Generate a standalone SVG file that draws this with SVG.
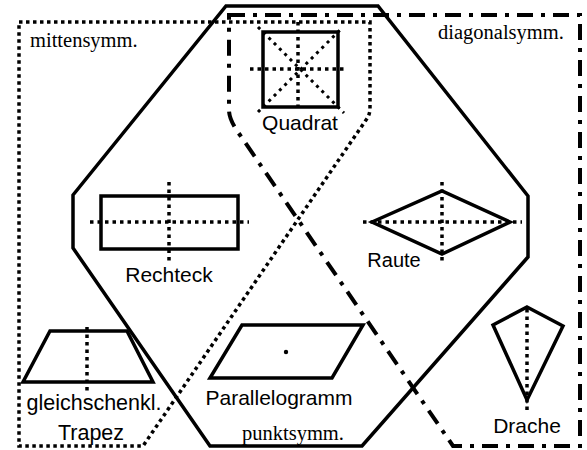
<svg xmlns="http://www.w3.org/2000/svg" width="587" height="450" viewBox="0 0 587 450">
<style>
.shape{fill:none;stroke:#000;stroke-width:3.5;stroke-linejoin:miter}
.axis{fill:none;stroke:#000;stroke-width:3.5;stroke-dasharray:3.5 4}
.diag{fill:none;stroke:#000;stroke-width:3;stroke-dasharray:3 4.5}
.oct{fill:none;stroke:#000;stroke-width:3.5}
.mitte{fill:none;stroke:#000;stroke-width:3.5;stroke-dasharray:3.5 3.5}
.diagsym{fill:none;stroke:#000;stroke-width:4;stroke-dasharray:16 8 4 8}
.serif{font-family:"Liberation Serif","Times New Roman",serif;font-size:20.5px;fill:#000}
.sans{font-family:"Liberation Sans",Arial,sans-serif;font-size:21px;fill:#000}
</style>
<rect width="587" height="450" fill="#fff"/>
<g id="regions">
<path id="punktsymm" class="oct" d="M226 6H378L528 196V257L362 446H210L73 248V195Z"/>
<path id="mittensymm" class="mitte" d="M19 22H370V108Q370 115 366 120L143 446H19Z"/>
<path id="diagonalsymm" class="diagsym" d="M229 15H580V446H453L240 135Q229 120 229 110Z"/>
<text class="serif" x="30" y="47">mittensymm.</text>
<text class="serif" x="438" y="39">diagonalsymm.</text>
<text class="serif" x="242" y="440">punktsymm.</text>
</g>
<g id="quadrat">
<rect class="shape" x="263" y="32" width="75" height="75"/>
<line class="axis" x1="298" y1="22" x2="298" y2="112"/>
<line class="axis" x1="250" y1="69" x2="346" y2="69"/>
<line class="diag" x1="258" y1="27" x2="344" y2="113"/>
<line class="diag" x1="258" y1="112" x2="342" y2="28"/>
<text class="sans" x="300" y="130" text-anchor="middle">Quadrat</text>
</g>
<g id="rechteck">
<rect class="shape" x="101" y="196" width="137" height="53"/>
<line class="axis" x1="90" y1="222" x2="249" y2="222"/>
<line class="axis" x1="169" y1="182" x2="169" y2="262"/>
<text class="sans" x="169" y="282" text-anchor="middle">Rechteck</text>
</g>
<g id="raute">
<polygon class="shape" points="372,222 442,191 510,222 442,254"/>
<line class="axis" x1="363" y1="222" x2="522" y2="222"/>
<line class="axis" x1="442" y1="182" x2="442" y2="262"/>
<text class="sans" x="394" y="267" text-anchor="middle" style="font-size:20px">Raute</text>
</g>
<g id="trapez">
<polygon class="shape" points="50,331 127,331 153,382 23,382"/>
<line class="axis" x1="87" y1="327" x2="87" y2="392"/>
<text class="sans" x="94" y="410" text-anchor="middle" style="font-size:21.5px">gleichschenkl.</text>
<text class="sans" x="91" y="440" text-anchor="middle" style="font-size:21.5px">Trapez</text>
</g>
<g id="parallelogramm">
<polygon class="shape" points="242,325 363,325 332,378 210,378"/>
<circle cx="286" cy="352" r="2.2" fill="#000"/>
<text class="sans" x="279" y="405" text-anchor="middle">Parallelogramm</text>
</g>
<g id="drache">
<polygon class="shape" points="527,307 563,326 527,400 493,325"/>
<line class="axis" x1="527" y1="309" x2="527" y2="411"/>
<text class="sans" x="527" y="433" text-anchor="middle">Drache</text>
</g>
</svg>
